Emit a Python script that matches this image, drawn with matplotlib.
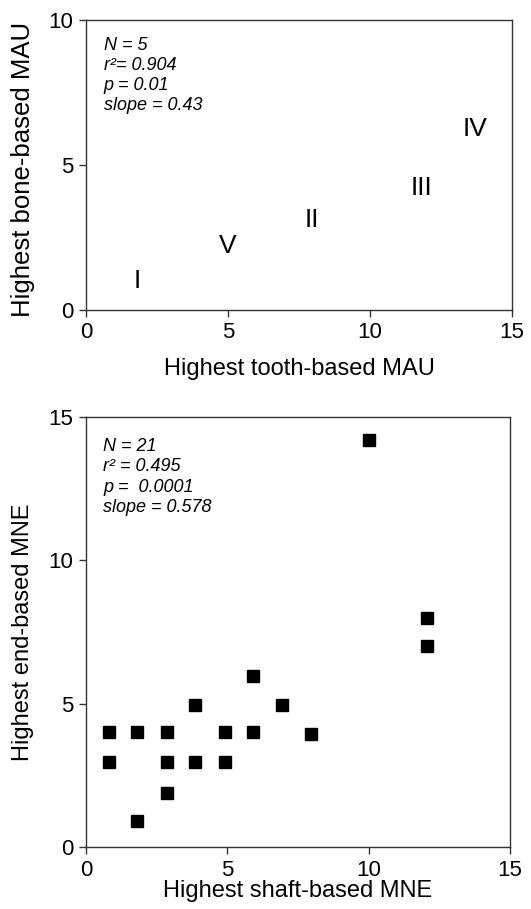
import matplotlib.pyplot as plt

plt.rcParams['font.family'] = ['Liberation Sans', 'DejaVu Sans']

# top panel: assemblage labels plotted as text markers
site_labels = ['I', 'V', 'II', 'III', 'IV']
tooth_mau = [1.8, 5.0, 7.95, 11.8, 13.7]
bone_mau = [1.0, 2.2, 3.1, 4.2, 6.25]
top_stats = ['N = 5', 'r\u00b2= 0.904', 'p = 0.01', 'slope = 0.43']

# bottom panel
shaft_mne = [0.8, 0.8, 1.8, 1.8, 2.85, 2.85, 2.85, 3.85, 3.85, 4.9, 4.9,
             5.9, 5.9, 6.95, 7.95, 10.0, 12.05, 12.05]
end_mne = [4.0, 2.95, 4.0, 0.9, 4.0, 2.95, 1.9, 4.95, 2.95, 4.0, 2.95,
           5.95, 4.0, 4.95, 3.95, 14.2, 8.0, 7.0]
bottom_stats = ['N = 21', 'r\u00b2 = 0.495', 'p =  0.0001', 'slope = 0.578']

W, H = 531, 909
fig = plt.figure(figsize=(W / 100, H / 100), dpi=100)

spine_c = '#333333'


def style(ax):
    for s in ax.spines.values():
        s.set_color(spine_c)
        s.set_linewidth(1.0)
    ax.tick_params(axis='both', direction='out', length=5, width=1.0,
                   color=spine_c, labelsize=16, pad=4)


# top axes: x 86..512, y 20..310
ax1 = fig.add_axes([86 / W, 1 - 310 / H, 426 / W, 290 / H])
style(ax1)
for lab, x, y in zip(site_labels, tooth_mau, bone_mau):
    ax1.text(x, y, lab, ha='center', va='center', fontsize=19)
ax1.set_xlim(0, 15)
ax1.set_ylim(0, 10)
ax1.set_xticks([0, 5, 10, 15])
ax1.set_yticks([0, 5, 10])
ax1.set_xlabel('Highest tooth-based MAU', fontsize=17)
ax1.set_ylabel('Highest bone-based MAU', fontsize=18.5)
ax1.xaxis.set_label_coords(0.5, -0.165)
ax1.yaxis.set_label_coords(-0.12, 0.485)
ax1.text(0.042, 0.943, '\n'.join(top_stats), transform=ax1.transAxes,
         ha='left', va='top', fontsize=13, style='italic', linespacing=1.25)

# bottom axes: x 86..510, y 417..847
ax2 = fig.add_axes([86 / W, 1 - 847 / H, 424 / W, 430 / H])
style(ax2)
ax2.plot(shaft_mne, end_mne, linestyle='none', marker='s', markersize=9,
         color='black')
ax2.set_xlim(0, 15)
ax2.set_ylim(0, 15)
ax2.set_xticks([0, 5, 10, 15])
ax2.set_yticks([0, 5, 10, 15])
ax2.set_xlabel('Highest shaft-based MNE', fontsize=17)
ax2.set_ylabel('Highest end-based MNE', fontsize=17)
ax2.xaxis.set_label_coords(0.5, -0.077)
ax2.yaxis.set_label_coords(-0.123, 0.5)
ax2.text(0.04, 0.951, '\n'.join(bottom_stats), transform=ax2.transAxes,
         ha='left', va='top', fontsize=13, style='italic', linespacing=1.25)

fig.savefig('out.png', dpi=100)
